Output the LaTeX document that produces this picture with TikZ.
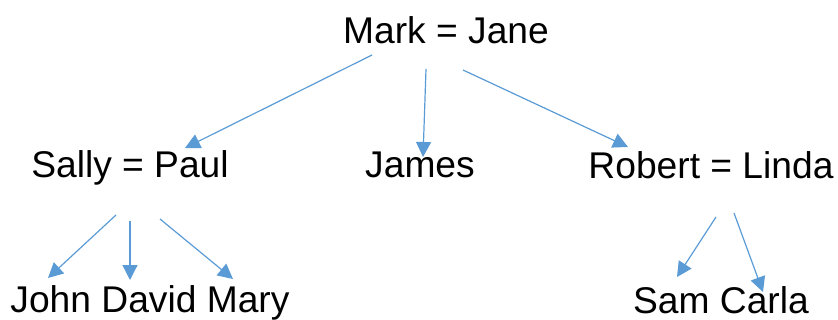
\documentclass[tikz,border=0pt]{standalone}
\usepackage{fontspec}
\setmainfont{Liberation Sans}
\usepackage{xcolor}
\usepackage{tikz}
\usetikzlibrary{arrows.meta, positioning, calc}

\definecolor{linkblue}{HTML}{5B9BD5}

\begin{document}
\begin{tikzpicture}[x=0.5pt, y=-0.5pt,
    person/.style={anchor=base, inner sep=0pt, font=\fontsize{18.6}{22}\selectfont},
    link/.style={-{Triangle[length=7.5pt, width=7.5pt]}, linkblue, line width=0.6pt}]

\useasboundingbox (0,0) rectangle (838,320);

% Parents
\node[person] (markjane) at (446,44) {Mark = Jane};

% Children
\node[person] (sallypaul) at (130,177) {Sally = Paul};
\node[person] (james) at (420,177) {James};
\node[person] (robertlinda) at (711,178) {Robert = Linda};

% Grandchildren
\node[person] (jdm) at (150,312) {John David Mary};
\node[person] (samcarla) at (721,313) {Sam Carla};

% Arrow ends
\coordinate (m1) at (372,55);
\coordinate (m2) at (426,69);
\coordinate (m3) at (463,70);
\coordinate (toSally) at (185,148);
\coordinate (toJames) at (423,157);
\coordinate (toRobert) at (628,147);

\coordinate (s1) at (116,215);
\coordinate (s2) at (130,221);
\coordinate (s3) at (160,219);
\coordinate (toJohn) at (48,278);
\coordinate (toDavid) at (130,280);
\coordinate (toMary) at (233,279);

\coordinate (r1) at (716,217);
\coordinate (r2) at (734,213);
\coordinate (toSam) at (677,277);
\coordinate (toCarla) at (763,292);

% Mark = Jane -> children
\draw[link] (m1) -- (toSally);
\draw[link] (m2) -- (toJames);
\draw[link] (m3) -- (toRobert);

% Sally = Paul -> children
\draw[link] (s1) -- (toJohn);
\draw[link] (s2) -- (toDavid);
\draw[link] (s3) -- (toMary);

% Robert = Linda -> children
\draw[link] (r1) -- (toSam);
\draw[link] (r2) -- (toCarla);

\end{tikzpicture}
\end{document}
